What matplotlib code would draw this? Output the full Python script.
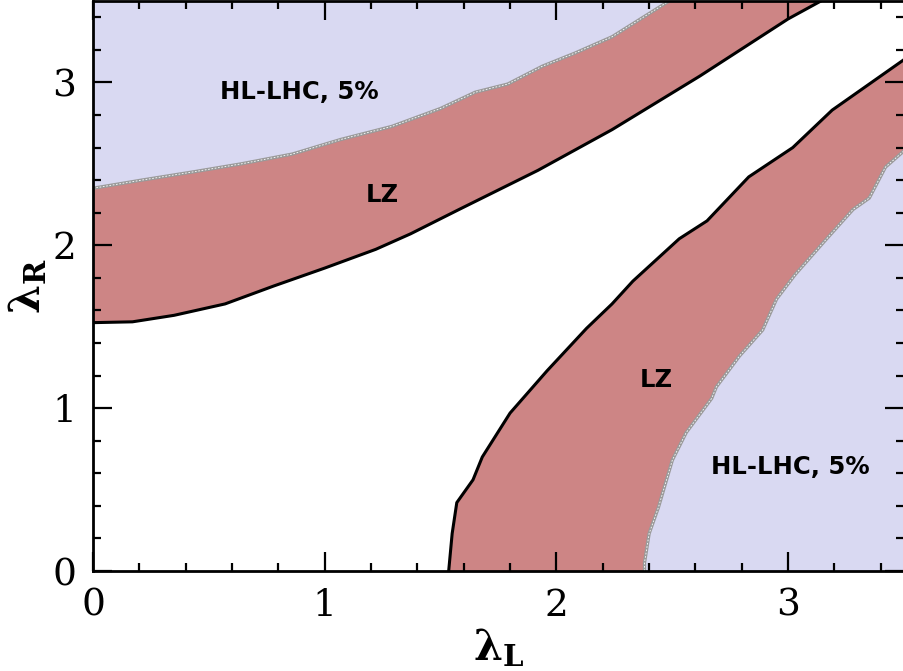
import numpy as np
import matplotlib
matplotlib.use("Agg")
import matplotlib.pyplot as plt
from matplotlib.ticker import MultipleLocator

plt.rcParams["mathtext.fontset"] = "dejavuserif"

# Limits of the (lambda_L, lambda_R) plane
X_MAX = 3.5
Y_MAX = 3.5

# Upper branch: LZ boundary (black) and HL-LHC 5% boundary (grey), y as a function of x
upper_lz_x = [0.0, 0.17, 0.35, 0.57, 0.78, 1.00, 1.22, 1.37, 1.58, 1.92, 2.24, 2.62, 3.00, 3.18]
upper_lz_y = [1.525, 1.53, 1.57, 1.64, 1.75, 1.86, 1.975, 2.07, 2.22, 2.46, 2.71, 3.04, 3.39, 3.53]
upper_hl_x = [0.0, 0.21, 0.43, 0.64, 0.86, 1.07, 1.29, 1.50, 1.65, 1.79, 1.94, 2.08, 2.24, 2.52]
upper_hl_y = [2.35, 2.40, 2.45, 2.50, 2.56, 2.65, 2.73, 2.84, 2.94, 2.99, 3.10, 3.18, 3.28, 3.53]

# Lower branch: x as a function of y
lower_lz_y = [0.0, 0.23, 0.42, 0.56, 0.70, 0.97, 1.23, 1.49, 1.64, 1.78, 2.04, 2.15, 2.42, 2.60, 2.83, 3.14]
lower_lz_x = [1.535, 1.55, 1.57, 1.64, 1.68, 1.80, 1.96, 2.13, 2.24, 2.33, 2.53, 2.65, 2.83, 3.02, 3.19, 3.50]
lower_hl_y = [0.0, 0.05, 0.23, 0.39, 0.68, 0.85, 1.06, 1.13, 1.32, 1.48, 1.67, 1.82, 2.03, 2.22, 2.29, 2.48, 2.58]
lower_hl_x = [2.38, 2.38, 2.40, 2.44, 2.50, 2.56, 2.67, 2.69, 2.79, 2.89, 2.95, 3.03, 3.16, 3.28, 3.35, 3.42, 3.50]

RED = "#cd8585"
BLUE = "#d9d9f2"
GREY = "#9a9a9a"

fig = plt.figure(figsize=(9.04, 6.71), dpi=100)
ax = fig.add_axes([93 / 904, 100 / 671, 811 / 904, 570 / 671])

# LZ excluded regions
ax.fill_between(upper_lz_x, upper_lz_y, Y_MAX, color=RED, lw=0)
ax.fill_betweenx(lower_lz_y, lower_lz_x, X_MAX, color=RED, lw=0)
# HL-LHC regions on top
ax.fill_between(upper_hl_x, upper_hl_y, Y_MAX, color=BLUE, lw=0)
ax.fill_betweenx(lower_hl_y, lower_hl_x, X_MAX, color=BLUE, lw=0)

for xs, ys in [(upper_hl_x, upper_hl_y), (lower_hl_x, lower_hl_y)]:
    ax.plot(xs, ys, color=GREY, lw=2.4, solid_capstyle="butt", solid_joinstyle="round")
    ax.plot(xs, ys, color="white", lw=0.6, ls=(0, (2, 2)))
for xs, ys in [(upper_lz_x, upper_lz_y), (lower_lz_x, lower_lz_y)]:
    ax.plot(xs, ys, color="black", lw=2.2, solid_joinstyle="round")

ax.text(0.89, 2.94, "HL-LHC, 5%", fontsize=17.5, fontweight="bold", ha="center", va="center")
ax.text(3.01, 0.64, "HL-LHC, 5%", fontsize=17.5, fontweight="bold", ha="center", va="center")
ax.text(1.25, 2.31, "LZ", fontsize=17.5, fontweight="bold", ha="center", va="center")
ax.text(2.43, 1.17, "LZ", fontsize=17.5, fontweight="bold", ha="center", va="center")

ax.set_xlim(0, X_MAX)
ax.set_ylim(0, Y_MAX)
ax.xaxis.set_major_locator(MultipleLocator(1))
ax.yaxis.set_major_locator(MultipleLocator(1))
ax.xaxis.set_minor_locator(MultipleLocator(0.2))
ax.yaxis.set_minor_locator(MultipleLocator(0.2))
ax.tick_params(which="both", direction="in", top=True, right=True, width=1.6)
ax.tick_params(which="major", length=14, pad=12, labelsize=27)
ax.tick_params(which="minor", length=6)
for lab in ax.get_xticklabels() + ax.get_yticklabels():
    lab.set_family("DejaVu Serif")
for sp in ax.spines.values():
    sp.set_linewidth(2)

ax.set_xlabel(r"$\boldsymbol{\lambda}_\mathbf{L}$", fontsize=30, labelpad=2)
ax.set_ylabel(r"$\boldsymbol{\lambda}_\mathbf{R}$", fontsize=30, labelpad=2)

fig.savefig("out.png", dpi=100)
